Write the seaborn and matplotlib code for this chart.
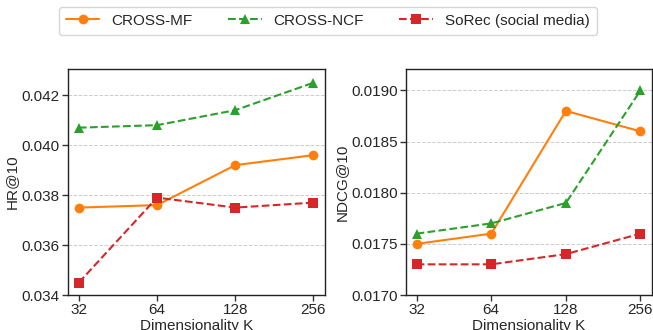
import matplotlib
matplotlib.use("Agg")
import matplotlib.pyplot as plt
import seaborn as sns
import numpy as np
import pandas as pd

dims = ["32", "64", "128", "256"]
series_names = ["CROSS-MF", "CROSS-NCF", "SoRec (social media)"]

hr_mf = [0.0375, 0.0376, 0.0392, 0.0396]
hr_ncf = [0.0407, 0.0408, 0.0414, 0.0425]
hr_sorec = [0.0345, 0.0379, 0.0375, 0.0377]

ndcg_mf = [0.0175, 0.0176, 0.0188, 0.0186]
ndcg_ncf = [0.0176, 0.0177, 0.0179, 0.0190]
ndcg_sorec = [0.0173, 0.0173, 0.0174, 0.0176]

hr_ticks = [0.034, 0.036, 0.038, 0.040, 0.042]
ndcg_ticks = [0.0170, 0.0175, 0.0180, 0.0185, 0.0190]

sns.set_theme(style="white")
plt.rcParams['font.family'] = ['Liberation Sans', 'DejaVu Sans']

colors = ["#ff7f0e", "#2ca02c", "#d62728"]
markers = ["o", "^", "s"]
styles = ["-", "--", "--"]

fig = plt.figure(figsize=(6.53, 3.30), dpi=100)
ax1 = fig.add_axes([0.104, 0.106, 0.394, 0.685])
ax2 = fig.add_axes([0.622, 0.106, 0.376, 0.685])

pos = np.arange(len(dims))

def draw(ax, vals, ylabel, ticks, ylim, fmt):
    for name, v, c, m, ls in zip(series_names, vals, colors, markers, styles):
        df = pd.DataFrame({"x": pos, "y": v})
        sns.lineplot(data=df, x="x", y="y", ax=ax, color=c, marker=m,
                     linestyle=ls, markersize=7, linewidth=1.5,
                     markeredgewidth=0, label=name, legend=False)
    ax.set_xticks(pos)
    ax.set_xticklabels(dims)
    ax.set_yticks(ticks)
    ax.set_yticklabels([fmt.format(t) for t in ticks])
    ax.set_ylim(*ylim)
    ax.set_xlim(-0.14, 3.15)
    ax.set_xlabel("Dimensionality K", fontsize=11, labelpad=1)
    ax.set_ylabel(ylabel, fontsize=11, labelpad=2)
    ax.tick_params(axis="both", labelsize=11, length=4, width=1,
                   bottom=True, left=True, color="#333333", pad=2)
    ax.yaxis.grid(True, linestyle="--", linewidth=0.7, color="#cccccc")
    ax.xaxis.grid(False)
    for s in ax.spines.values():
        s.set_color("#222222")
        s.set_linewidth(1.0)

draw(ax1, [hr_mf, hr_ncf, hr_sorec], "HR@10", hr_ticks, (0.034, 0.04305), "{:.3f}")
draw(ax2, [ndcg_mf, ndcg_ncf, ndcg_sorec], "NDCG@10", ndcg_ticks, (0.0170, 0.01921), "{:.4f}")

handles, labels = ax1.get_legend_handles_labels()
fig.legend(handles, labels, loc="upper center", bbox_to_anchor=(0.502, 0.979),
           borderaxespad=0, ncol=3, fontsize=11, frameon=True, edgecolor="#cccccc",
           columnspacing=2.3, handlelength=2.2, borderpad=0.45)

fig.savefig("out.png", dpi=100)
